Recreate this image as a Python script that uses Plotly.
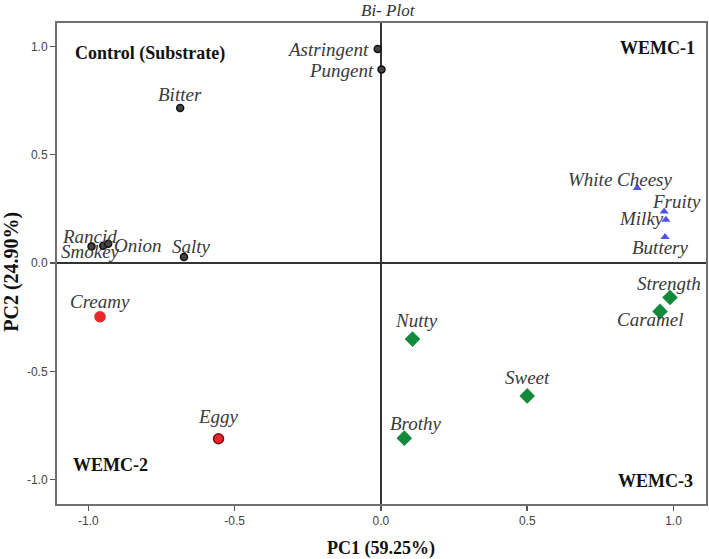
import plotly.graph_objects as go

# ---- data ----
control_names = ["Astringent", "Pungent", "Bitter", "Salty", "Rancid", "Smokey", "Onion"]
control_pc1 = [-0.011, 0.002, -0.686, -0.673, -0.989, -0.949, -0.932]
control_pc2 = [0.988, 0.893, 0.716, 0.028, 0.077, 0.080, 0.089]

wemc1_names = ["White Cheesy", "Fruity", "Milky", "Buttery"]
wemc1_pc1 = [0.876, 0.968, 0.974, 0.971]
wemc1_pc2 = [0.346, 0.238, 0.200, 0.120]

wemc2_names = ["Creamy", "Eggy"]
wemc2_pc1 = [-0.960, -0.555]
wemc2_pc2 = [-0.248, -0.811]

wemc3_names = ["Strength", "Caramel", "Nutty", "Sweet", "Brothy"]
wemc3_pc1 = [0.988, 0.954, 0.108, 0.500, 0.080]
wemc3_pc2 = [-0.159, -0.223, -0.351, -0.613, -0.808]

tick_vals = [-1.0, -0.5, 0.0, 0.5, 1.0]
tick_text = ["-1.0", "-0.5", "0.0", "0.5", "1.0"]

# ---- label placement (pixel offsets from the point: xanchor, dx, dy) ----
label_offsets = {
    "Astringent": ("right", -7, 0), "Pungent": ("right", -6, -1),
    "Bitter": ("center", 0, 13), "Salty": ("center", 8, 11),
    "Rancid": ("center", -2, 10), "Smokey": ("center", -13, -6),
    "Onion": ("left", 4, -2),
    "White Cheesy": ("center", -17, 9), "Fruity": ("center", 12, 10),
    "Milky": ("center", -24, 1), "Buttery": ("center", -5, -10),
    "Creamy": ("center", 0, 15), "Eggy": ("center", 0, 22),
    "Strength": ("center", -1, 14), "Caramel": ("center", -10, -8),
    "Nutty": ("center", 4, 19), "Sweet": ("center", 0, 18),
    "Brothy": ("center", 12, 15),
}

serif = "Liberation Serif, Times New Roman, serif"
sans = "Liberation Sans, Arial, sans-serif"

fig = go.Figure()
fig.add_trace(go.Scatter(
    x=control_pc1, y=control_pc2, mode="markers", name="Control",
    marker=dict(symbol="circle", size=7, color="#444444",
                line=dict(color="#111111", width=1.5))))
fig.add_trace(go.Scatter(
    x=wemc1_pc1, y=wemc1_pc2, mode="markers", name="WEMC-1",
    marker=dict(symbol="triangle-up", size=8, color="#5050ee", line=dict(width=0))))
fig.add_trace(go.Scatter(
    x=wemc2_pc1, y=wemc2_pc2, mode="markers", name="WEMC-2",
    marker=dict(symbol="circle", size=10, color="#e8262b",
                line=dict(color=["#e8262b", "#7a1010"], width=1.5))))
fig.add_trace(go.Scatter(
    x=wemc3_pc1, y=wemc3_pc2, mode="markers", name="WEMC-3",
    marker=dict(symbol="diamond", size=12, color="#128a3c", line=dict(width=0))))

annotations = []
for names, xs, ys in [(control_names, control_pc1, control_pc2),
                      (wemc1_names, wemc1_pc1, wemc1_pc2),
                      (wemc2_names, wemc2_pc1, wemc2_pc2),
                      (wemc3_names, wemc3_pc1, wemc3_pc2)]:
    for n, xv, yv in zip(names, xs, ys):
        xa, dx, dy = label_offsets[n]
        annotations.append(dict(
            x=xv, y=yv, xref="x", yref="y", text=n, showarrow=False,
            xanchor=xa, yanchor="middle", xshift=dx, yshift=dy,
            font=dict(family=serif, size=19, color="#3a3a3a", style="italic")))

quad = [("Control (Substrate)", -0.789, 0.965),
        ("WEMC-1", 0.945, 0.993),
        ("WEMC-2", -0.925, -0.932),
        ("WEMC-3", 0.939, -1.004)]
for t, xv, yv in quad:
    annotations.append(dict(
        x=xv, y=yv, xref="x", yref="y", text="<b>%s</b>" % t, showarrow=False,
        xanchor="center", yanchor="middle",
        font=dict(family=serif, size=18, color="#111111")))

# title and axis titles
annotations.append(dict(
    x=0.0255, y=1.0, xref="x", yref="paper", yshift=13, text="Bi- Plot",
    showarrow=False, xanchor="center", yanchor="middle",
    font=dict(family=serif, size=17, color="#333333", style="italic")))
annotations.append(dict(
    x=0.0, y=0.0, xref="x", yref="paper", yshift=-44, text="<b>PC1 (59.25%)</b>",
    showarrow=False, xanchor="center", yanchor="middle",
    font=dict(family=serif, size=18, color="#111111")))
annotations.append(dict(
    x=0.0, y=-0.04, xref="paper", yref="y", xshift=-45, text="<b>PC2 (24.90%)</b>",
    showarrow=False, xanchor="center", yanchor="middle", textangle=-90,
    font=dict(family=serif, size=20, color="#111111")))

axis_common = dict(
    tickvals=tick_vals, ticktext=tick_text,
    ticks="outside", ticklen=5, tickwidth=1.5, tickcolor="#555555",
    tickfont=dict(family=sans, size=12, color="#444444"),
    showgrid=False, showline=True, linecolor="#707070", linewidth=2, mirror=True,
    zeroline=True, zerolinecolor="#333333", zerolinewidth=2,
    automargin=False,
)

fig.update_layout(
    width=709, height=559,
    margin=dict(l=57, r=3, t=23, b=55),
    paper_bgcolor="white", plot_bgcolor="white",
    showlegend=False,
    hovermode=False,
    annotations=annotations,
    xaxis=dict(range=[-1.107, 1.111], **axis_common),
    yaxis=dict(range=[-1.112, 1.108], **axis_common),
)

# remove the default page margin so the figure fills the window exactly
fig.write_html("out.html",
               config={"displayModeBar": False, "staticPlot": True},
               post_script="document.body.style.margin='0';document.body.style.overflow='hidden';")
